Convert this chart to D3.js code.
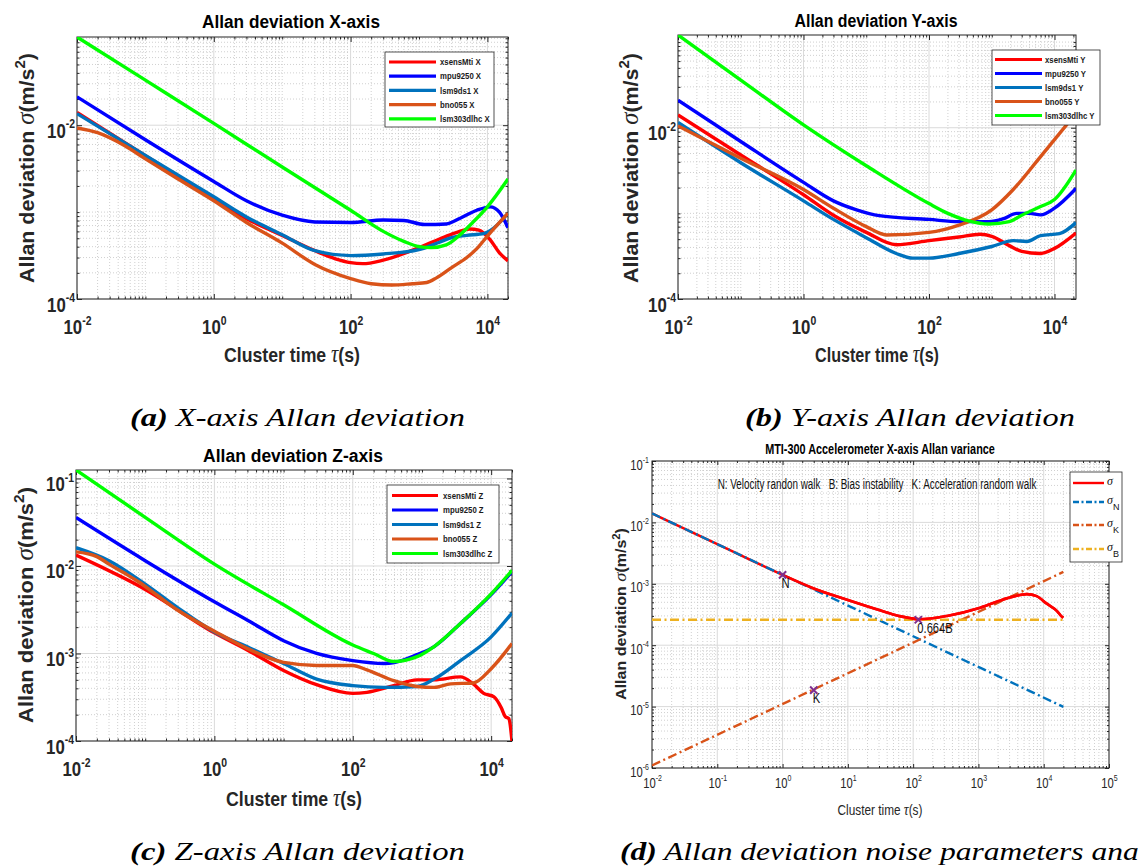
<!DOCTYPE html>
<html>
<head>
<meta charset="utf-8">
<script src="https://cdn.jsdelivr.net/npm/d3@7"></script>
<style>
  body { margin: 0; background: #fff; }
  svg { font-family: "Liberation Sans", Arial, sans-serif; }
</style>
</head>
<body>
<svg id="root" width="1142" height="867"></svg>
<script>
// ---------- data (tau [s], sigma [m/s^2]) ----------
const sensors = ["xsensMti", "mpu9250", "lsm9ds1", "bno055", "lsm303dlhc"];
const sensorColors = ["#ff0000", "#0000ff", "#0072bd", "#d95319", "#00ff00"];

// X axis
const xXsens = [[0.01,0.014],[0.1,4.45e-3],[1,1.42e-3],[3,8.4e-4],[10,5.4e-4],[30,3.6e-4],[60,2.9e-4],[100,2.62e-4],[150,2.55e-4],[300,2.8e-4],[1000,3.9e-4],[2000,4.9e-4],[3500,5.8e-4],[5500,6.4e-4],[7500,6.2e-4],[11000,4.8e-4],[15000,3.4e-4],[20000,2.75e-4]];
const xMpu = [[0.01,0.0212],[0.1,6.8e-3],[1,2.25e-3],[3,1.35e-3],[10,9.2e-4],[30,7.7e-4],[100,7.6e-4],[300,8.1e-4],[600,8.0e-4],[1200,7.2e-4],[2500,7.3e-4],[4000,8.5e-4],[7000,1.05e-3],[11000,1.15e-3],[15000,1.0e-3],[20000,6.6e-4]];
const xLsm9 = [[0.01,0.0136],[0.1,4.5e-3],[1,1.5e-3],[3,8.8e-4],[10,5.5e-4],[30,3.6e-4],[100,3.16e-4],[300,3.3e-4],[1000,3.7e-4],[2000,4.5e-4],[3000,5.1e-4],[5000,5.4e-4],[9000,5.7e-4],[20000,9.7e-4]];
const xBno = [[0.01,9.3e-3],[0.02,8.2e-3],[0.05,5.8e-3],[0.1,4.1e-3],[0.3,2.4e-3],[1,1.35e-3],[3,7.6e-4],[10,4.4e-4],[30,2.5e-4],[100,1.72e-4],[200,1.5e-4],[400,1.45e-4],[800,1.5e-4],[1300,1.55e-4],[1800,1.75e-4],[3000,2.3e-4],[5000,3.0e-4],[7000,3.8e-4],[10000,5.3e-4],[20000,9.7e-4]];
const xLsm303 = [[0.01,0.1035],[0.1,0.033],[1,0.0105],[10,3.3e-3],[100,1.05e-3],[300,6.0e-4],[600,4.6e-4],[1000,4.0e-4],[1500,3.9e-4],[2500,4.2e-4],[4000,5.5e-4],[6000,7.5e-4],[10000,1.15e-3],[20000,2.4e-3]];

// Y axis
const yXsens = [[0.01,0.0141],[0.1,4.8e-3],[1,1.65e-3],[3,9.5e-4],[10,6.0e-4],[30,4.3e-4],[100,4.8e-4],[300,5.3e-4],[650,5.7e-4],[1000,5.4e-4],[1900,4.2e-4],[3000,3.6e-4],[6000,3.4e-4],[10000,3.9e-4],[22000,5.9e-4]];
const yMpu = [[0.01,0.021],[0.1,6.9e-3],[1,2.3e-3],[3,1.4e-3],[7,1.1e-3],[16,9.4e-4],[100,8.5e-4],[300,8.0e-4],[900,8.0e-4],[1500,8.6e-4],[2500,1.0e-3],[4000,1.0e-3],[6000,9.6e-4],[10000,1.15e-3],[22000,1.95e-3]];
const yLsm9 = [[0.01,0.0115],[0.1,3.9e-3],[1,1.4e-3],[3,8.5e-4],[10,5.2e-4],[30,3.4e-4],[55,3.0e-4],[100,3.0e-4],[300,3.4e-4],[1000,4.1e-4],[2200,4.8e-4],[3600,4.7e-4],[6000,5.5e-4],[12000,5.8e-4],[22000,7.8e-4]];
const yBno = [[0.01,0.0105],[0.1,4.4e-3],[1,1.9e-3],[3,1.15e-3],[10,7.0e-4],[21,5.6e-4],[100,6.0e-4],[300,7.3e-4],[1000,1.1e-3],[2200,1.9e-3],[6000,4.6e-3],[22000,0.0147]];
const yLsm303 = [[0.01,0.121],[0.1,0.036],[1,0.0108],[10,3.6e-3],[100,1.3e-3],[200,1.0e-3],[440,8.1e-4],[900,7.5e-4],[1900,8.0e-4],[3000,9.5e-4],[6000,1.2e-3],[10000,1.45e-3],[22000,3.2e-3]];

// Z axis
const zXsens = [[0.01,0.0133],[0.1,5.4e-3],[1,1.72e-3],[3.3,1.05e-3],[10,6.4e-4],[30,4.4e-4],[100,3.5e-4],[160,3.6e-4],[390,4.3e-4],[850,5.0e-4],[1500,5.0e-4],[3600,5.4e-4],[5500,4.5e-4],[7800,3.5e-4],[11000,3.2e-4],[14000,2.4e-4],[16000,1.9e-4],[18000,1.8e-4],[20000,1.0e-4]];
const zMpu = [[0.01,0.0358],[0.1,0.0115],[1,3.9e-3],[3.3,2.3e-3],[10,1.4e-3],[30,1.0e-3],[100,8.3e-4],[280,7.7e-4],[400,7.9e-4],[800,9.5e-4],[1500,1.2e-3],[3600,2.2e-3],[10000,4.7e-3],[20000,8.6e-3]];
const zLsm9 = [[0.01,0.0162],[0.03,0.0115],[0.1,6.2e-3],[0.3,3.3e-3],[1,1.76e-3],[3.3,1.15e-3],[10,7.7e-4],[30,5.1e-4],[100,4.3e-4],[280,4.1e-4],[850,4.2e-4],[1500,5.1e-4],[3600,8.3e-4],[10000,1.55e-3],[20000,2.9e-3]];
const zBno = [[0.01,0.0145],[0.02,0.0128],[0.03,0.0105],[0.05,8.3e-3],[0.08,6.6e-3],[0.15,4.6e-3],[0.3,3.1e-3],[1,1.8e-3],[3.3,1.1e-3],[10,7.9e-4],[30,7.3e-4],[100,7.3e-4],[160,6.5e-4],[390,4.9e-4],[850,4.2e-4],[1500,4.1e-4],[2600,4.5e-4],[5500,4.6e-4],[10000,6.7e-4],[20000,1.3e-3]];
const zLsm303 = [[0.01,0.125],[0.1,0.036],[1,0.0105],[10,3.6e-3],[100,1.25e-3],[200,1.0e-3],[390,8.1e-4],[850,9.2e-4],[1500,1.2e-3],[3600,2.2e-3],[10000,4.8e-3],[20000,8.9e-3]];

// MTI-300 noise analysis
const dSigma = [[0.01,0.014],[0.1,4.43e-3],[1,1.4e-3],[3,8.4e-4],[10,5.45e-4],[31,3.7e-4],[60,3.0e-4],[125,2.65e-4],[330,3.0e-4],[1000,4.0e-4],[1900,5.1e-4],[3600,6.3e-4],[5500,6.8e-4],[7800,6.3e-4],[11000,4.8e-4],[16000,3.6e-4],[19000,2.9e-4],[20000,2.8e-4]];
const dSigmaN = [[0.01,1.4e-2],[20000,9.9e-6]];
const dSigmaK = [[0.01,1.1e-6],[20000,1.56e-3]];
const dSigmaB = [[0.01,2.6e-4],[20000,2.6e-4]];
const dPoints = [[1,1.4e-3],[120,2.6e-4],[3,1.85e-5]];
const dPointLabels = ["N", "0.664B", "K"];
const dLegend = [["σ",""],["σ","N"],["σ","K"],["σ","B"]];
const dColors = ["#ff0000","#0072bd","#d95319","#edb120"];
const dNote = "N: Velocity randon walk\u00a0\u00a0\u00a0B: Bias instability\u00a0\u00a0\u00a0K: Acceleration random walk";

const captions = [
  ["(a)", " X-axis Allan deviation"],
  ["(b)", " Y-axis Allan deviation"],
  ["(c)", " Z-axis Allan deviation"],
  ["(d)", " Allan deviation noise parameters ana"]
];

// ---------- helpers ----------
const svg = d3.select("#root");

function logTicks(dom) {
  const out = [];
  const e0 = Math.floor(Math.log10(dom[0]) + 1e-9), e1 = Math.ceil(Math.log10(dom[1]));
  for (let e = e0; e <= e1; e++)
    for (let k = 1; k < 10; k++) {
      const v = k * Math.pow(10, e);
      if (v >= dom[0] * 0.999 && v <= dom[1] * 1.001) out.push(v);
    }
  return out;
}

function pow10(text, v, fs) {
  const e = Math.round(Math.log10(v));
  text.append("tspan").text("10");
  text.append("tspan").attr("dy", -fs * 0.45).attr("font-size", fs * 0.62).text(e);
}

// squeeze or stretch a text horizontally so it spans len pixels
function fitText(t, cx, cy, len, rot) {
  const w = t.node().getComputedTextLength();
  const k = len / w;
  t.attr("x", 0).attr("y", 0)
    .attr("transform", `translate(${cx},${cy})${rot ? " rotate(-90)" : ""} scale(${k},1)`);
  return k;
}

function ylabelText(t, fs) {
  t.append("tspan").text("Allan deviation ");
  t.append("tspan").attr("font-family", "Liberation Serif").attr("font-style", "italic")
    .attr("font-weight", "normal").attr("font-size", fs * 1.15).text("σ");
  t.append("tspan").text("(m/s");
  t.append("tspan").attr("dy", -fs * 0.42).attr("font-size", fs * 0.7).text("2");
  t.append("tspan").attr("dy", fs * 0.42).text(")");
}

function xlabelText(t, fs) {
  t.append("tspan").text("Cluster time ");
  t.append("tspan").attr("font-family", "Liberation Serif").attr("font-style", "italic")
    .attr("font-weight", "normal").attr("font-size", fs * 1.15).text("τ");
  t.append("tspan").text("(s)");
}

function drawPanel(p, id) {
  const x = d3.scaleLog().domain(p.xDom).range([p.left, p.right]);
  const y = d3.scaleLog().domain(p.yDom).range([p.bottom, p.top]);
  const g = svg.append("g");

  g.append("rect").attr("x", p.left).attr("y", p.top)
    .attr("width", p.right - p.left).attr("height", p.bottom - p.top).attr("fill", "#fff");

  // grid
  const xMinor = logTicks(p.xDom).filter(v => !p.xMajor.some(m => Math.abs(m / v - 1) < 1e-6));
  const yMinor = logTicks(p.yDom).filter(v => !p.yMajor.some(m => Math.abs(m / v - 1) < 1e-6));
  const grid = g.append("g");
  grid.selectAll(".vx").data(xMinor).join("line")
    .attr("x1", d => x(d)).attr("x2", d => x(d)).attr("y1", p.top).attr("y2", p.bottom)
    .attr("stroke", "#c4c4c4").attr("stroke-width", 0.8).attr("stroke-dasharray", "1,2");
  grid.selectAll(".hy").data(yMinor).join("line")
    .attr("y1", d => y(d)).attr("y2", d => y(d)).attr("x1", p.left).attr("x2", p.right)
    .attr("stroke", "#c4c4c4").attr("stroke-width", 0.8).attr("stroke-dasharray", "1,2");
  grid.selectAll(".vX").data(p.xMajor).join("line")
    .attr("x1", d => x(d)).attr("x2", d => x(d)).attr("y1", p.top).attr("y2", p.bottom)
    .attr("stroke", "#dadada").attr("stroke-width", 1);
  grid.selectAll(".hY").data(p.yMajor).join("line")
    .attr("y1", d => y(d)).attr("y2", d => y(d)).attr("x1", p.left).attr("x2", p.right)
    .attr("stroke", "#dadada").attr("stroke-width", 1);

  // ticks on all four sides (inward)
  const tickAxes = [
    [d3.axisBottom(x), p.bottom, true], [d3.axisTop(x), p.top, true],
    [d3.axisLeft(y), p.left, false], [d3.axisRight(y), p.right, false]
  ];
  tickAxes.forEach(([ax, pos, horiz]) => {
    const tr = horiz ? `translate(0,${pos})` : `translate(${pos},0)`;
    const maj = horiz ? p.xMajor : p.yMajor, mnr = horiz ? xMinor : yMinor;
    const a1 = g.append("g").attr("transform", tr)
      .call(ax.tickValues(maj).tickSize(-p.tick).tickFormat(""));
    a1.select(".domain").remove();
    a1.selectAll("line").attr("stroke", "#262626");
    const a2 = g.append("g").attr("transform", tr)
      .call(ax.tickValues(mnr).tickSize(-p.tick * 0.5).tickFormat(""));
    a2.select(".domain").remove();
    a2.selectAll("line").attr("stroke", "#262626");
  });

  // tick labels
  const xl = g.append("g").attr("transform", `translate(0,${p.bottom})`)
    .call(d3.axisBottom(x).tickValues(p.xMajor).tickSize(0).tickFormat(""));
  xl.select(".domain").remove();
  xl.selectAll(".tick").append("text")
    .attr("y", p.xLabY).attr("text-anchor", "middle").attr("transform", `scale(${p.tickK},1)`)
    .attr("font-size", p.tickFs).attr("font-weight", p.tickW).attr("fill", "#262626")
    .each(function (d) { pow10(d3.select(this), d, p.tickFs); });
  const yl = g.append("g").attr("transform", `translate(${p.left},0)`)
    .call(d3.axisLeft(y).tickValues(p.yMajor).tickSize(0).tickFormat(""));
  yl.select(".domain").remove();
  yl.selectAll(".tick").append("text")
    .attr("x", -p.yLabX / p.tickK).attr("y", p.yLabDy).attr("text-anchor", "end")
    .attr("transform", `scale(${p.tickK},1)`)
    .attr("font-size", p.tickFs).attr("font-weight", p.tickW).attr("fill", "#262626")
    .each(function (d) { pow10(d3.select(this), d, p.tickFs); });

  // box
  g.append("rect").attr("x", p.left).attr("y", p.top)
    .attr("width", p.right - p.left).attr("height", p.bottom - p.top)
    .attr("fill", "none").attr("stroke", "#262626").attr("stroke-width", 1);

  // title and axis labels
  const tt = g.append("text").attr("text-anchor", "middle")
    .attr("font-weight", "bold").attr("font-size", p.title.fs).attr("fill", "#000").text(p.title.text);
  fitText(tt, p.title.x, p.title.y, p.title.len);
  const xt = g.append("text").attr("text-anchor", "middle").attr("fill", "#262626")
    .attr("font-weight", p.xlab.w).attr("font-size", p.xlab.fs);
  xlabelText(xt, p.xlab.fs);
  fitText(xt, p.xlab.x, p.xlab.y, p.xlab.len);
  const yt = g.append("text").attr("text-anchor", "middle").attr("fill", "#262626")
    .attr("font-weight", "bold").attr("font-size", p.ylab.fs);
  ylabelText(yt, p.ylab.fs);
  fitText(yt, p.ylab.x, p.ylab.y, p.ylab.len, true);

  // clip
  svg.append("clipPath").attr("id", "clip" + id).append("rect")
    .attr("x", p.left).attr("y", p.top).attr("width", p.right - p.left).attr("height", p.bottom - p.top);
  const plot = g.append("g").attr("clip-path", `url(#clip${id})`);
  return { x, y, g, plot };
}

function drawSensors(p, id, series, axisName) {
  const { x, y, g, plot } = drawPanel(p, id);
  const line = d3.line().x(d => x(d[0])).y(d => y(d[1])).curve(d3.curveMonotoneX);
  plot.selectAll("path.s").data(series).join("path")
    .attr("d", d => line(d)).attr("fill", "none")
    .attr("stroke", (d, i) => sensorColors[i]).attr("stroke-width", 3.4)
    .attr("stroke-linejoin", "round");

  // legend
  const L = p.legend;
  const lg = g.append("g").attr("transform", `translate(${L.x},${L.y})`);
  lg.append("rect").attr("width", L.w).attr("height", L.h).attr("fill", "#fff")
    .attr("stroke", "#262626").attr("stroke-width", 0.8);
  sensors.forEach((s, i) => {
    const yy = L.row0 + i * L.step;
    lg.append("line").attr("x1", L.l0).attr("x2", L.l1).attr("y1", yy).attr("y2", yy)
      .attr("stroke", sensorColors[i]).attr("stroke-width", 3.2);
    lg.append("text").attr("x", L.tx).attr("y", yy + 3.3).attr("font-size", 9.5)
      .attr("font-weight", "bold").attr("fill", "#1a1a1a")
      .attr("transform", `translate(${L.tx * 0.18},0) scale(0.82,1)`)
      .text(`${s} ${axisName}`);
  });
}

// ---------- panels ----------
const big = { tick: 5, tickFs: 21, tickK: 0.8, tickW: "bold", xLabY: 35, yLabX: 2, yLabDy: 12 };

drawSensors({ ...big, left: 77, right: 508, top: 37, bottom: 299,
  xDom: [0.01, 2e4], yDom: [1e-4, 0.1035], xMajor: [1e-2, 1, 1e2, 1e4], yMajor: [1e-4, 1e-2],
  title: { text: "Allan deviation X-axis", x: 291, y: 28, fs: 19, len: 178 },
  xlab: { x: 292, y: 362, fs: 21, len: 136, w: "bold" },
  ylab: { x: 34, y: 168, fs: 21, len: 230 },
  legend: { x: 385, y: 52, w: 109, h: 75, row0: 10, step: 14.2, l0: 4, l1: 51, tx: 55 }
}, "a", [xXsens, xMpu, xLsm9, xBno, xLsm303], "X");

drawSensors({ ...big, left: 678, right: 1076, top: 35, bottom: 299,
  xDom: [0.01, 2.2e4], yDom: [1e-4, 0.121], xMajor: [1e-2, 1, 1e2, 1e4], yMajor: [1e-4, 1e-2],
  title: { text: "Allan deviation Y-axis", x: 876, y: 27, fs: 19, len: 163 },
  xlab: { x: 877, y: 362, fs: 21, len: 124, w: "bold" },
  ylab: { x: 638, y: 168, fs: 21, len: 230 },
  legend: { x: 992, y: 50, w: 108, h: 75, row0: 9.5, step: 14, l0: 3, l1: 50, tx: 53 }
}, "b", [yXsens, yMpu, yLsm9, yBno, yLsm303], "Y");

drawSensors({ ...big, left: 76, right: 512, top: 470, bottom: 741,
  xDom: [0.01, 2e4], yDom: [1e-4, 0.125], xMajor: [1e-2, 1, 1e2, 1e4], yMajor: [1e-4, 1e-3, 1e-2, 1e-1],
  title: { text: "Allan deviation Z-axis", x: 293, y: 462, fs: 19, len: 180 },
  xlab: { x: 294, y: 806, fs: 21, len: 136, w: "bold" },
  ylab: { x: 33, y: 605, fs: 21, len: 236 },
  legend: { x: 387, y: 485, w: 112, h: 78, row0: 10.5, step: 14.5, l0: 5, l1: 51, tx: 56 }
}, "c", [zXsens, zMpu, zLsm9, zBno, zLsm303], "Z");

// panel d
(function () {
  const p = { tick: 4, tickFs: 15, tickK: 0.75, tickW: "normal", xLabY: 20, yLabX: 3, yLabDy: 8,
    left: 652, right: 1109, top: 461, bottom: 768,
    xDom: [1e-2, 1e5], yDom: [1e-6, 1e-1],
    xMajor: [1e-2, 1e-1, 1, 1e1, 1e2, 1e3, 1e4, 1e5],
    yMajor: [1e-6, 1e-5, 1e-4, 1e-3, 1e-2, 1e-1],
    title: { text: "MTI-300 Accelerometer X-axis Allan variance", x: 880, y: 454, fs: 14, len: 230 },
    xlab: { x: 880, y: 815, fs: 14, len: 85, w: "normal" },
    ylab: { x: 626, y: 614, fs: 15, len: 172 } };
  const { x, y, g, plot } = drawPanel(p, "d");
  const line = d3.line().x(d => x(d[0])).y(d => y(d[1])).curve(d3.curveMonotoneX);
  const dashes = [null, "9,3.5,2,3.5", "9,3.5,2,3.5", "9,3.5,2,3.5"];
  [dSigma, dSigmaN, dSigmaK, dSigmaB].forEach((s, i) => {
    plot.append("path").attr("d", line(s)).attr("fill", "none")
      .attr("stroke", dColors[i]).attr("stroke-width", i === 0 ? 2.6 : 2.4)
      .attr("stroke-dasharray", dashes[i]);
  });
  // red curve on top once it leaves the N line
  plot.append("path").attr("d", line(dSigma.filter(d => d[0] >= 1))).attr("fill", "none")
    .attr("stroke", dColors[0]).attr("stroke-width", 2.6);

  const sym = d3.symbol().type(d3.symbolTimes || d3.symbolCross).size(36);
  plot.selectAll("path.m").data(dPoints).join("path")
    .attr("transform", d => `translate(${x(d[0])},${y(d[1])})`)
    .attr("d", sym).attr("fill", "none").attr("stroke", "#7e2f8e").attr("stroke-width", 2);
  g.selectAll("text.pl").data(dPoints).join("text")
    .attr("transform", d => `translate(${x(d[0]) - 1},${y(d[1]) + 13}) scale(0.8,1)`)
    .attr("font-size", 14).attr("fill", "#111")
    .text((d, i) => dPointLabels[i]);

  const note = g.append("text").attr("text-anchor", "middle")
    .attr("font-size", 14).attr("fill", "#111").text(dNote);
  fitText(note, 877, 489, 319);

  const lg = g.append("g").attr("transform", "translate(1070,472)");
  lg.append("rect").attr("width", 52).attr("height", 90).attr("fill", "#fff")
    .attr("stroke", "#262626").attr("stroke-width", 0.8);
  const rows = [11, 30, 53, 77];
  dLegend.forEach((lab, i) => {
    lg.append("line").attr("x1", 3).attr("x2", 34).attr("y1", rows[i]).attr("y2", rows[i])
      .attr("stroke", dColors[i]).attr("stroke-width", 2.4)
      .attr("stroke-dasharray", i === 0 ? null : "6,2.5,2,2.5");
    const t = lg.append("text").attr("x", 37).attr("y", rows[i] + 2)
      .attr("font-size", 12).attr("fill", "#111");
    t.append("tspan").attr("font-family", "Liberation Serif").attr("font-style", "italic").text(lab[0]);
    if (lab[1]) t.append("tspan").attr("dy", 6).attr("font-size", 9).text(lab[1]);
  });
})();

// ---------- captions ----------
const capPos = [[130, 426, 335], [745, 426, 330], [130, 860, 335], [620, 860, 519]];
captions.forEach(([tag, txt], i) => {
  const t = svg.append("text")
    .attr("font-family", "Liberation Serif").attr("font-style", "italic")
    .attr("font-size", 25).attr("fill", "#000");
  t.append("tspan").attr("font-weight", "bold").text(tag);
  t.append("tspan").text(txt);
  const k = capPos[i][2] / t.node().getComputedTextLength();
  t.attr("transform", `translate(${capPos[i][0]},${capPos[i][1]}) scale(${k},1)`);
});
</script>
</body>
</html>
